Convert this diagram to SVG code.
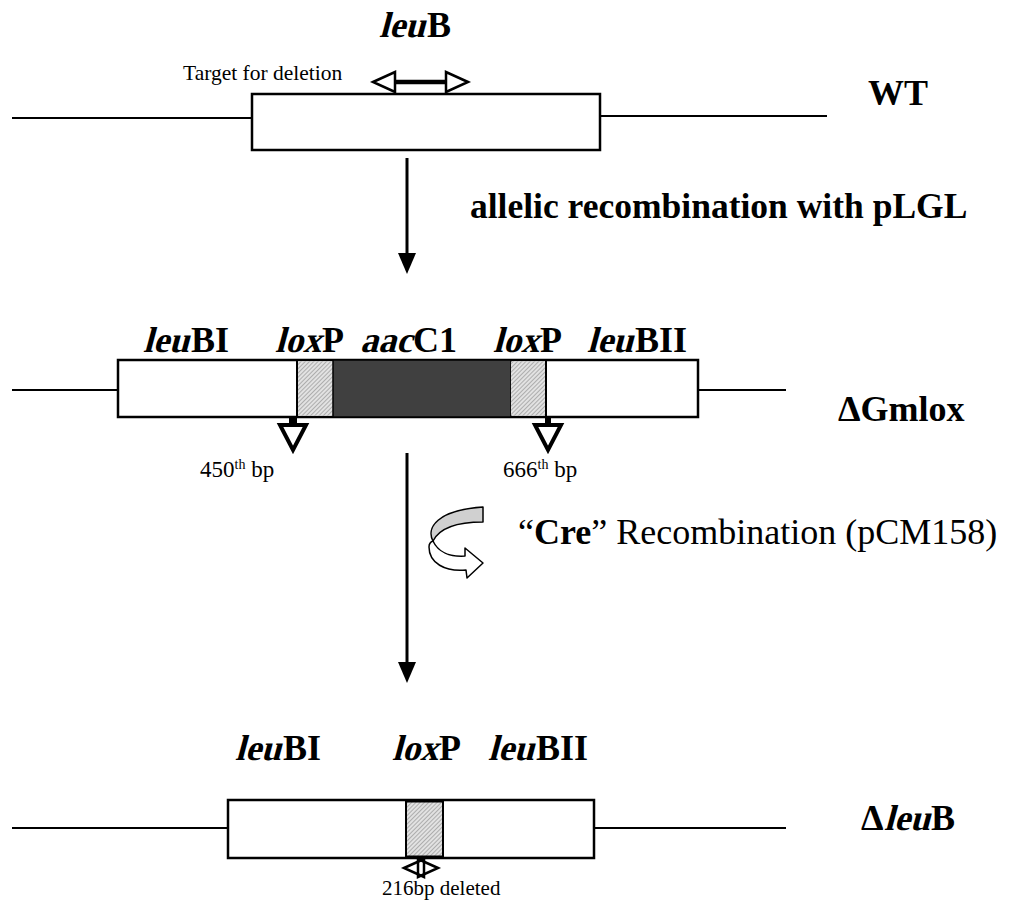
<svg xmlns="http://www.w3.org/2000/svg" width="1010" height="903" viewBox="0 0 1010 903">
<defs>
<pattern id="hatch" width="3" height="3" patternUnits="userSpaceOnUse" patternTransform="rotate(45)">
<rect width="3" height="3" fill="#e2e2e2"/>
<line x1="0" y1="0" x2="0" y2="3" stroke="#8a8a8a" stroke-width="1.2"/>
</pattern>
</defs>
<style>
.chr{stroke:#000;stroke-width:2;fill:none}
.box{stroke:#000;stroke-width:2.5;fill:#fff}
.lbl{font-family:"Liberation Serif","Times New Roman",serif;font-weight:bold;font-size:36px;fill:#000}
.sm{font-family:"Liberation Serif","Times New Roman",serif;font-size:21px;fill:#000}
.arr{stroke:#000;stroke-width:3;fill:none}
.head{fill:#000;stroke:none}
.tri{fill:#fff;stroke:#000;stroke-width:4;stroke-linejoin:miter}
</style>
<rect width="1010" height="903" fill="#fff"/>

<g id="wt">
<line class="chr" x1="12" y1="118" x2="252" y2="118"/>
<line class="chr" x1="600" y1="116" x2="827" y2="116"/>
<rect class="box" x="252" y="94" width="348" height="56"/>
<g id="lbl-leuB">
<text class="lbl" transform="translate(379,37) skewX(-15)">leu</text>
<text class="lbl" x="427" y="37">B</text>
</g>
<text class="sm" x="183" y="80" style="font-size:21.5px">Target for deletion</text>
<g id="target-arrow">
<line x1="394" y1="82" x2="447" y2="82" stroke="#000" stroke-width="4.5"/>
<polygon class="tri" style="stroke-width:2.5" points="373,82 395,72 395,92"/>
<polygon class="tri" style="stroke-width:2.5" points="468,82 446,72 446,92"/>
</g>
<text class="lbl" x="868" y="105">WT</text>
</g>

<g id="gmlox">
<line class="chr" x1="12" y1="390" x2="118" y2="390"/>
<line class="chr" x1="698" y1="390" x2="786" y2="390"/>
<rect class="box" x="118" y="360" width="580" height="57"/>
<rect x="297" y="361.5" width="36" height="54" fill="url(#hatch)"/>
<rect x="333" y="360" width="178" height="57" fill="#404040" stroke="#000" stroke-width="1.5"/>
<rect x="511" y="361.5" width="35" height="54" fill="url(#hatch)"/>
<line x1="297" y1="360" x2="297" y2="417" stroke="#000" stroke-width="2"/>
<line x1="546" y1="360" x2="546" y2="417" stroke="#000" stroke-width="2"/>
<g id="lbl-leuBI-1">
<text class="lbl" transform="translate(143,352) skewX(-15)">leu</text>
<text class="lbl" x="191" y="352">BI</text>
</g>
<g id="lbl-loxP-1">
<text class="lbl" transform="translate(275,352) skewX(-15)">lox</text>
<text class="lbl" x="322" y="352">P</text>
</g>
<g id="lbl-aacC1">
<text class="lbl" transform="translate(360,352) skewX(-15)">aac</text>
<text class="lbl" x="413" y="352">C1</text>
</g>
<g id="lbl-loxP-2">
<text class="lbl" transform="translate(493,352) skewX(-15)">lox</text>
<text class="lbl" x="540" y="352">P</text>
</g>
<g id="lbl-leuBII-1">
<text class="lbl" transform="translate(587,352) skewX(-15)">leu</text>
<text class="lbl" x="635" y="352">BII</text>
</g>
<text class="lbl" x="838" y="421">ΔGmlox</text>
</g>

<g id="site450">
<rect x="289" y="417" width="8" height="8" fill="#000"/>
<polygon class="tri" points="280,425 306,425 293,450"/>
<text class="sm" x="200" y="477" style="font-size:23px">450<tspan font-size="14" dy="-8">th</tspan><tspan dy="8"> bp</tspan></text>
</g>
<g id="site666">
<rect x="545" y="417" width="6" height="8" fill="#000"/>
<polygon class="tri" points="535,425 561,425 548,450"/>
<text class="sm" x="503" y="477" style="font-size:23px">666<tspan font-size="14" dy="-8">th</tspan><tspan dy="8"> bp</tspan></text>
</g>

<g id="deltaleub">
<line class="chr" x1="12" y1="828" x2="228" y2="828"/>
<line class="chr" x1="594" y1="828" x2="786" y2="828"/>
<rect class="box" x="228" y="800" width="366" height="58"/>
<rect x="406" y="801.5" width="37" height="55" fill="url(#hatch)" stroke="#000" stroke-width="2"/>
<g id="lbl-leuBI-2">
<text class="lbl" transform="translate(235,760) skewX(-15)">leu</text>
<text class="lbl" x="283" y="760">BI</text>
</g>
<g id="lbl-loxP-3">
<text class="lbl" transform="translate(392,760) skewX(-15)">lox</text>
<text class="lbl" x="439" y="760">P</text>
</g>
<g id="lbl-leuBII-2">
<text class="lbl" transform="translate(488,760) skewX(-15)">leu</text>
<text class="lbl" x="536" y="760">BII</text>
</g>
<g id="lbl-dleuB">
<text class="lbl" x="861" y="830">Δ</text>
<text class="lbl" transform="translate(884,830) skewX(-15)">leu</text>
<text class="lbl" x="931" y="830">B</text>
</g>
<g id="del-arrow">
<polygon class="tri" style="stroke-width:2.5" points="404,868 424,859 424,877"/>
<polygon class="tri" style="stroke-width:2.5;fill:none" points="438,868 418,859 418,877"/>
</g>
<text class="sm" x="382" y="895">216bp deleted</text>
</g>

<g id="connectors">
<line class="arr" x1="407" y1="158" x2="407" y2="255"/>
<polygon class="head" points="398,253 416,253 407,274"/>
<text class="lbl" x="470" y="218" style="font-size:35.5px">allelic recombination with pLGL</text>
<line class="arr" x1="407" y1="453" x2="407" y2="664"/>
<polygon class="head" points="398,662 416,662 407,683"/>
<g id="cre-icon">
<path d="M483,507 L483,522 C458,522 440,527 433,541 C426,528 437,510 483,507 Z" fill="#d0d0d0" stroke="#000" stroke-width="1.5" stroke-linejoin="round"/>
<path d="M433,541 C438,552 450,557 465,556 L465,548 L483,563 L467,578 L466,570 C445,572 429,563 429,547 C429,544 430,542 433,541 Z" fill="#fff" stroke="#000" stroke-width="1.5" stroke-linejoin="round"/>
</g>
<text class="sm" x="518" y="544" style="font-size:36px">“<tspan font-weight="bold">Cre</tspan>” Recombination (pCM158)</text>
</g>
</svg>
